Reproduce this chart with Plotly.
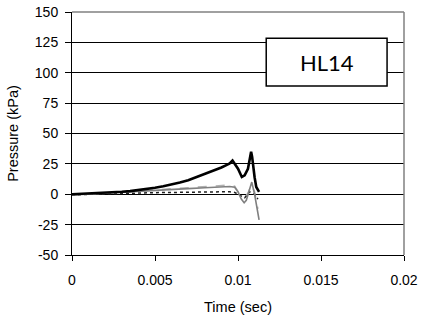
import plotly.graph_objects as go

# Pressure traces for gauge HL14 (time in seconds, pressure in kPa)
t_main = [0, 0.001, 0.002, 0.003, 0.0035, 0.004, 0.0045, 0.005, 0.0055, 0.006, 0.0065, 0.007,
          0.0075, 0.008, 0.0085, 0.009, 0.0093, 0.0095, 0.00967, 0.0098, 0.0100, 0.01023,
          0.0104, 0.0106, 0.0107, 0.01079, 0.01085, 0.0109, 0.0110, 0.0111, 0.01127]
p_main = [0, 0.5, 1.1, 2.0, 2.6, 3.4, 4.3, 5.4, 6.6, 7.9, 9.6, 11.6, 14.1, 16.8, 19.5, 22.0,
          24.0, 25.4, 27.8, 25.5, 21.0, 14.2, 15.5, 21.0, 28.0, 35.0, 31.0, 24.0, 14.0, 6.0, 2.0]

t_gray = [0, 0.002, 0.004, 0.006, 0.007, 0.008, 0.009, 0.0095, 0.0098, 0.0100, 0.0102,
          0.01037, 0.0105, 0.0107, 0.01083, 0.0110, 0.01127]
p_gray = [-0.5, 0.8, 2.2, 3.8, 4.6, 5.4, 6.1, 6.4, 5.8, 2.0, -4.0, -7.0, -5.0, 4.0, 10.0,
          0.0, -21.0]

t_light = [0, 0.002, 0.004, 0.006, 0.007, 0.008, 0.009, 0.0095, 0.0098, 0.0100, 0.0102,
           0.0104, 0.0106, 0.0108, 0.0110, 0.0112]
p_light = [-0.8, 1.0, 2.8, 4.6, 5.5, 6.4, 7.2, 7.6, 6.6, 2.5, -2.0, -3.0, 1.0, 7.5, 2.0,
           -12.0]

t_dash = [0, 0.001, 0.002, 0.003, 0.004, 0.005, 0.006, 0.007, 0.008, 0.009, 0.0095, 0.0098,
          0.0101, 0.0104, 0.0107, 0.0110, 0.0112]
p_dash = [-0.5, 0.0, 0.4, 0.7, 1.0, 1.3, 1.5, 1.7, 1.9, 2.0, 2.1, 1.5, -1.0, -3.0, 2.0,
          0.0, -4.0]

x_ticks = [0, 0.005, 0.01, 0.015, 0.02]
x_labels = ["0", "0.005", "0.01", "0.015", "0.02"]
y_ticks = [-50, -25, 0, 25, 50, 75, 100, 125, 150]
y_labels = ["-50", "-25", "0", "25", "50", "75", "100", "125", "150"]

gauge_label = "HL14"

fig = go.Figure()
fig.add_trace(go.Scatter(x=t_light, y=p_light, mode="lines",
                         line=dict(color="#b0b0b0", width=1.5, dash="dash")))
fig.add_trace(go.Scatter(x=t_dash, y=p_dash, mode="lines",
                         line=dict(color="#202020", width=1.5, dash="dot")))
fig.add_trace(go.Scatter(x=t_gray, y=p_gray, mode="lines",
                         line=dict(color="#808080", width=1.6)))
fig.add_trace(go.Scatter(x=t_main, y=p_main, mode="lines",
                         line=dict(color="black", width=2.6)))

font_axis = "Liberation Sans, Arial, sans-serif"

fig.update_layout(
    width=422, height=320,
    margin=dict(l=72, r=18, t=12, b=65),
    paper_bgcolor="white", plot_bgcolor="white",
    showlegend=False,
    font=dict(family=font_axis, size=14, color="black"),
    xaxis=dict(
        range=[0, 0.02], tickvals=x_ticks, ticktext=x_labels,
        showgrid=False, zeroline=False, automargin=False,
        showline=True, linecolor="black", linewidth=1,
        ticks="outside", ticklen=5, tickcolor="black", ticklabelstandoff=7,
        title=dict(text="Time (sec)", font=dict(size=14.5), standoff=15),
    ),
    yaxis=dict(
        range=[-50, 150], tickvals=y_ticks, ticktext=y_labels,
        showgrid=True, gridcolor="black", gridwidth=1,
        zeroline=False, automargin=False,
        showline=True, linecolor="black", linewidth=1,
        ticks="outside", ticklen=6, tickcolor="black", ticklabelstandoff=4,
        title=dict(text="Pressure (kPa)", font=dict(size=14.5), standoff=12),
    ),
    shapes=[
        # plot-area frame (top and right edges in gray)
        dict(type="line", xref="paper", yref="paper", x0=0, x1=1, y0=1, y1=1,
             line=dict(color="#808080", width=1.5)),
        dict(type="line", xref="paper", yref="paper", x0=1, x1=1, y0=0, y1=1,
             line=dict(color="#808080", width=1.5)),
        # label box
        dict(type="rect", xref="paper", yref="paper", x0=0.585, x1=0.949, y0=0.695, y1=0.892,
             line=dict(color="black", width=1.5), fillcolor="white", layer="above"),
    ],
    annotations=[
        dict(text=gauge_label, xref="paper", yref="paper", x=0.767, y=0.7935,
             showarrow=False, font=dict(family="Lato, Carlito, sans-serif", size=22, color="black"),
             xanchor="center", yanchor="middle"),
    ],
)

fig.write_html("out.html")
